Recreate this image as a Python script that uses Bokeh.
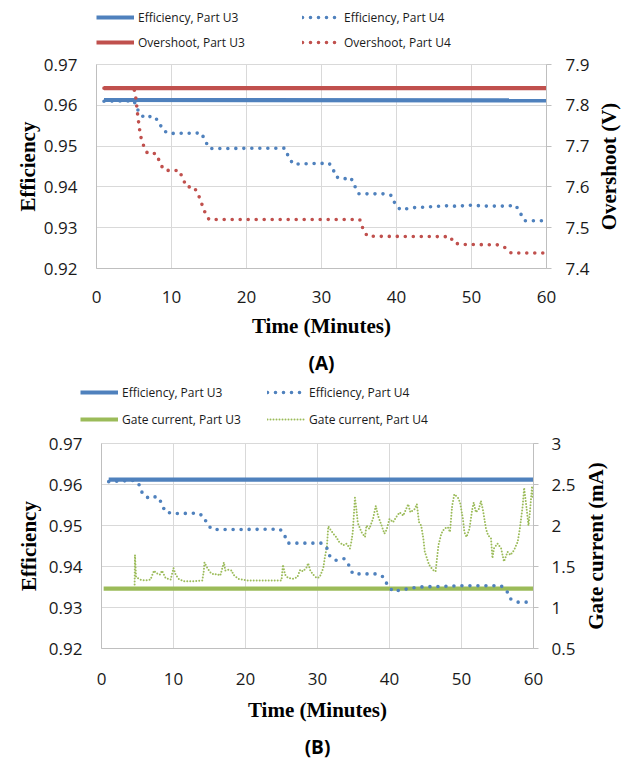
import math
from bokeh.plotting import figure
from bokeh.models import Range1d, LinearAxis, FixedTicker, Legend, LegendItem, Title, Label
from bokeh.layouts import row
from bokeh.embed import file_html
from bokeh.resources import INLINE

# ---------------- data ----------------
x_ticks = [0, 10, 20, 30, 40, 50, 60]
x_tick_labels = ["0", "10", "20", "30", "40", "50", "60"]
eff_ticks = [0.92, 0.93, 0.94, 0.95, 0.96, 0.97]
eff_tick_labels = ["0.92", "0.93", "0.94", "0.95", "0.96", "0.97"]
ov_ticks = [7.4, 7.5, 7.6, 7.7, 7.8, 7.9]
ov_tick_labels = ["7.4", "7.5", "7.6", "7.7", "7.8", "7.9"]
gate_ticks = [0.5, 1.0, 1.5, 2.0, 2.5, 3.0]
gate_tick_labels = ["0.5", "1", "1.5", "2", "2.5", "3"]

# Panel A
a_u3_t = [1, 60]
a_eff_u3 = [0.9613, 0.9612]
a_ov_u3 = [7.842, 7.842]

a_eff_u4_t = [1, 5.0, 5.3, 5.7, 6.4, 7.5, 8.3, 8.8, 9.6, 14.0, 14.5, 15.1, 25.1, 25.6, 26.2,
              31.0, 31.5, 31.9, 32.8, 33.9, 34.4, 35.0, 38.3, 39.3, 39.8, 40.5, 41.6, 42.7,
              43.8, 45.0, 46.0, 47.1, 48.2, 49.3, 50.4, 51.5, 52.6, 53.7, 54.8, 55.9, 56.5,
              57.1, 59.8]
a_eff_u4 = [0.9610, 0.9611, 0.9597, 0.9582, 0.9569, 0.9574, 0.9561, 0.9540, 0.9531, 0.9532,
            0.9512, 0.9494, 0.9495, 0.9474, 0.9456, 0.9458, 0.9446, 0.9425, 0.9419, 0.9423,
            0.9403, 0.9383, 0.9383, 0.9379, 0.9359, 0.9344, 0.9347, 0.9350, 0.9350, 0.9352,
            0.9353, 0.9354, 0.9352, 0.9355, 0.9355, 0.9353, 0.9353, 0.9353, 0.9353, 0.9355,
            0.9336, 0.9317, 0.9317]

a_ov_u4_t = [1, 5.0, 5.3, 5.4, 5.55, 5.7, 5.9, 6.3, 6.8, 7.9, 8.4, 8.9, 9.9, 11.0, 11.5, 12.0,
             13.0, 13.6, 14.0, 14.4, 15.0, 35.1, 35.5, 36.1, 47.2, 47.6, 48.6, 53.5, 54.4,
             55.3, 60]
a_ov_u4 = [7.842, 7.842, 7.812, 7.790, 7.768, 7.746, 7.723, 7.700, 7.682, 7.682, 7.663, 7.643,
           7.639, 7.641, 7.621, 7.600, 7.600, 7.580, 7.560, 7.540, 7.520, 7.520, 7.499, 7.479,
           7.478, 7.463, 7.459, 7.458, 7.452, 7.438, 7.438]

# Panel B
b_eff_u3_t = [1, 60]
b_eff_u3 = [0.9612, 0.9612]
b_gate_u3_t = [0.3, 60]
b_gate_u3 = [1.23, 1.23]

b_eff_u4_t = [1, 4.5, 5.3, 5.7, 6.6, 7.7, 8.4, 8.8, 9.9, 13.4, 14.2, 14.7, 15.4, 24.8, 25.4,
              25.9, 30.5, 31.3, 31.7, 32.5, 33.7, 34.4, 34.9, 38.2, 39.2, 39.7, 40.5, 41.6,
              42.7, 43.9, 46.0, 49.7, 55.5, 56.3, 56.8, 57.8, 59.0]
b_eff_u4 = [0.9607, 0.9610, 0.9598, 0.9577, 0.9566, 0.9571, 0.9554, 0.9534, 0.9529, 0.9530,
            0.9522, 0.9502, 0.9490, 0.9491, 0.9477, 0.9457, 0.9457, 0.9445, 0.9426, 0.9415,
            0.9419, 0.9402, 0.9382, 0.9382, 0.9374, 0.9355, 0.9339, 0.9343, 0.9346, 0.9350,
            0.9351, 0.9353, 0.9353, 0.9340, 0.9321, 0.9313, 0.9313]

b_gate_u4_t = [4.6, 4.65, 4.8, 5.4, 6.0, 6.8, 7.3, 7.6, 8.1, 8.4,
               8.9, 9.6, 10.0, 10.3, 10.7, 11.4, 12.8, 14.0, 14.2, 14.3,
               14.7, 15.1, 15.6, 16.0, 16.5, 17.0, 17.2, 17.6, 18.1, 18.3,
               19.0, 20.2, 22.0, 23.9, 25.0, 25.2, 25.5, 25.9, 26.6, 27.2,
               27.6, 28.0, 28.5, 28.7, 29.0, 29.4, 29.9, 30.3, 30.8, 31.0,
               31.3, 31.5, 31.7, 32.2, 32.6, 33.0, 33.6, 34.0, 34.5, 34.7,
               34.9, 35.2, 35.4, 35.6, 36.1, 36.6, 36.8, 37.2, 37.7, 38.1,
               38.4, 38.9, 39.3, 39.6, 40.0, 40.5, 40.9, 41.4, 41.9, 42.3,
               42.6, 42.9, 43.5, 43.8, 44.1, 44.4, 44.7, 44.9, 45.2, 45.5,
               46.0, 46.4, 46.6, 46.8, 47.2, 47.6, 48.1, 48.4, 48.7, 49.0,
               49.5, 49.8, 50.2, 50.4, 50.7, 51.1, 51.5, 51.7, 52.0, 52.4,
               52.7, 53.0, 53.4, 53.7, 54.1, 54.3, 54.5, 55.0, 55.5, 55.9,
               56.4, 56.8, 57.3, 57.8, 58.1, 58.5, 58.7, 59.0, 59.3, 59.5,
               59.8, 59.9]
b_gate_u4 = [1.28, 1.64, 1.37, 1.34, 1.33, 1.34, 1.45, 1.42, 1.40, 1.45,
             1.36, 1.34, 1.48, 1.40, 1.35, 1.32, 1.32, 1.33, 1.44, 1.55,
             1.48, 1.43, 1.40, 1.41, 1.39, 1.55, 1.45, 1.46, 1.45, 1.40,
             1.35, 1.33, 1.33, 1.33, 1.33, 1.52, 1.40, 1.36, 1.35, 1.37,
             1.46, 1.44, 1.49, 1.54, 1.45, 1.40, 1.36, 1.37, 1.48, 1.60,
             1.74, 1.99, 1.96, 1.90, 1.86, 1.80, 1.76, 1.78, 1.72, 1.80,
             1.92, 2.34, 2.20, 2.03, 1.92, 1.86, 2.00, 1.96, 2.08, 2.24,
             2.12, 2.00, 1.90, 1.95, 2.08, 2.04, 2.10, 2.16, 2.12, 2.20,
             2.26, 2.16, 2.20, 2.26, 2.04, 2.00, 1.84, 1.68, 1.60, 1.52,
             1.46, 1.44, 1.60, 1.76, 1.90, 1.96, 1.98, 1.92, 2.24, 2.38,
             2.34, 2.28, 2.08, 1.92, 1.86, 1.96, 2.20, 2.28, 2.16, 2.20,
             2.30, 2.18, 1.96, 1.88, 1.84, 1.60, 1.72, 1.78, 1.72, 1.56,
             1.68, 1.64, 1.70, 1.80, 1.96, 2.24, 2.46, 2.24, 2.00, 2.16,
             2.48, 2.32]

# ---------------- style ----------------
BLUE = "#4F81BD"
RED = "#C0504D"
GREEN = "#9BBB59"
GRID = "#D9D9D9"
AXIS = "#BFBFBF"
TXT = "#1a1a1a"
SANS = "Open Sans"
SERIF = "Liberation Serif"
W = 632

DOT = dict(line_dash="0 8", line_cap="round", line_width=3.6)
SOLID = dict(line_width=4.2, line_cap="butt")
GDOT = dict(line_dash="0 3", line_cap="round", line_width=2.0)


def make_fig(width, height, left, right, top, bottom, y2name, y2range):
    p = figure(width=width, height=height, x_range=Range1d(0, 60), y_range=Range1d(0.92, 0.97),
               output_backend="svg", toolbar_location=None,
               min_border_left=left, min_border_right=right,
               min_border_top=top, min_border_bottom=bottom)
    p.extra_y_ranges = {y2name: Range1d(*y2range)}
    p.background_fill_color = "white"
    p.border_fill_color = "white"
    p.outline_line_color = GRID
    p.xgrid.grid_line_color = GRID
    p.ygrid.grid_line_color = GRID
    p.xgrid.ticker = FixedTicker(ticks=x_ticks)
    p.ygrid.ticker = FixedTicker(ticks=eff_ticks)
    return p


def style_axis(ax, ticks, labels, standoff, tick_out):
    ax.ticker = FixedTicker(ticks=ticks)
    ax.major_label_overrides = dict(zip(ticks, labels))
    ax.axis_line_color = AXIS
    ax.major_tick_line_color = AXIS
    ax.major_tick_out = tick_out
    ax.major_tick_in = 0
    ax.minor_tick_out = 0
    ax.minor_tick_in = 0
    ax.major_label_standoff = standoff
    ax.major_label_text_font = SANS
    ax.major_label_text_font_size = "17px"
    ax.major_label_text_color = TXT


def title_axis(ax, text, standoff):
    ax.axis_label = text
    ax.axis_label_text_font = SERIF
    ax.axis_label_text_font_style = "bold"
    ax.axis_label_text_font_size = "21px"
    ax.axis_label_text_color = "black"
    ax.axis_label_standoff = standoff


def side_title(width, height, top, bottom, text, x_px):
    """Narrow strip next to a chart holding its right-axis title (reads bottom-to-top)."""
    tf = figure(width=width, height=height, x_range=Range1d(0, width), y_range=Range1d(0, 1),
                output_backend="svg", toolbar_location=None,
                min_border_left=0, min_border_right=0,
                min_border_top=top, min_border_bottom=bottom,
                x_axis_location=None, y_axis_location=None)
    tf.outline_line_color = None
    tf.grid.visible = False
    tf.background_fill_color = "white"
    tf.border_fill_color = "white"
    tf.add_layout(Label(x=x_px, y=0.5, text=text, angle=math.pi / 2,
                        text_align="center", text_baseline="middle", text_font=SERIF,
                        text_font_style="bold", text_font_size="21px", text_color="black"))
    return tf


def legend_fig(height, series, x, y, label_width, spacing):
    lf = figure(width=W, height=height, x_range=Range1d(0, 60), y_range=Range1d(100, 101),
                output_backend="svg", toolbar_location=None, min_border=0,
                x_axis_location=None, y_axis_location=None)
    lf.outline_line_color = None
    lf.grid.visible = False
    lf.background_fill_color = "white"
    lf.border_fill_color = "white"
    items = []
    for label, xs, ys, color, style in series:
        r = lf.line(xs, ys, color=color, **style)
        items.append(LegendItem(label=label, renderers=[r]))
    lg = Legend(items=items, location=(x, y), ncols=2, orientation="horizontal",
                glyph_width=38, glyph_height=20, label_height=20, label_width=label_width,
                label_standoff=4, spacing=spacing, padding=0, margin=0,
                border_line_alpha=0, background_fill_alpha=0,
                label_text_font=SANS, label_text_font_size="12px", label_text_color=TXT)
    lf.add_layout(lg)
    return lf


def panel_title(p, text, standoff):
    p.add_layout(Title(text=text, align="center", text_font=SANS, text_font_style="bold",
                       text_font_size="19px", text_color="black", standoff=standoff), "below")


# ---------------- panel A ----------------
leg_a = legend_fig(54, [
    ("Efficiency, Part U3", a_u3_t, a_eff_u3, BLUE, SOLID),
    ("Efficiency, Part U4", a_eff_u4_t, a_eff_u4, BLUE, DOT),
    ("Overshoot, Part U3", a_u3_t, a_ov_u3, RED, SOLID),
    ("Overshoot, Part U4", a_ov_u4_t, a_ov_u4, RED, DOT),
], 96, 2, 159, 5)

A_W, A_H, A_T, A_B = 592, 328, 10, 113
pa = make_fig(A_W, A_H, 96, 44, A_T, A_B, "ov", (7.4, 7.9))
ra = LinearAxis(y_range_name="ov")
pa.add_layout(ra, "right")
style_axis(pa.xaxis[0], x_ticks, x_tick_labels, 22, 0)
style_axis(pa.left[0], eff_ticks, eff_tick_labels, 19, 0)
style_axis(ra, ov_ticks, ov_tick_labels, 14, 5)
title_axis(pa.xaxis[0], "Time (Minutes)", 8)
title_axis(pa.left[0], "Efficiency", 1)

pa.line(a_u3_t, a_eff_u3, color=BLUE, **SOLID)
pa.line(a_u3_t, a_ov_u3, color=RED, y_range_name="ov", **SOLID)
pa.line(a_eff_u4_t, a_eff_u4, color=BLUE, **DOT)
pa.line(a_ov_u4_t, a_ov_u4, color=RED, y_range_name="ov", **DOT)
panel_title(pa, "(A)", 14)
ta = side_title(W - A_W, A_H, A_T, A_B, "Overshoot (V)", 16)

# ---------------- panel B ----------------
leg_b = legend_fig(51, [
    ("Efficiency, Part U3", b_eff_u3_t, b_eff_u3, BLUE, SOLID),
    ("Efficiency, Part U4", b_eff_u4_t, b_eff_u4, BLUE, DOT),
    ("Gate current, Part U3", b_gate_u3_t, b_gate_u3, GREEN, SOLID),
    ("Gate current, Part U4", b_gate_u4_t, b_gate_u4, GREEN, GDOT),
], 80, 4, 138, 7)

B_W, B_H, B_T, B_B = 578, 333, 10, 113
pb = make_fig(B_W, B_H, 101, 43, B_T, B_B, "gate", (0.5, 3.0))
rb = LinearAxis(y_range_name="gate")
pb.add_layout(rb, "right")
style_axis(pb.xaxis[0], x_ticks, x_tick_labels, 24, 0)
style_axis(pb.left[0], eff_ticks, eff_tick_labels, 19, 0)
style_axis(rb, gate_ticks, gate_tick_labels, 13, 5)
title_axis(pb.xaxis[0], "Time (Minutes)", 10)
title_axis(pb.left[0], "Efficiency", 5)

pb.line(b_eff_u3_t, b_eff_u3, color=BLUE, **SOLID)
pb.line(b_gate_u3_t, b_gate_u3, color=GREEN, y_range_name="gate", **SOLID)
pb.line(b_gate_u4_t, b_gate_u4, color=GREEN, y_range_name="gate", **GDOT)
pb.line(b_eff_u4_t, b_eff_u4, color=BLUE, **DOT)
panel_title(pb, "(B)", 14)
tb = side_title(W - B_W, B_H, B_T, B_B, "Gate current (mA)", 17)

# separate roots stacked on the page
open("out.html", "w").write(file_html([leg_a, row(pa, ta), leg_b, row(pb, tb)], INLINE))
